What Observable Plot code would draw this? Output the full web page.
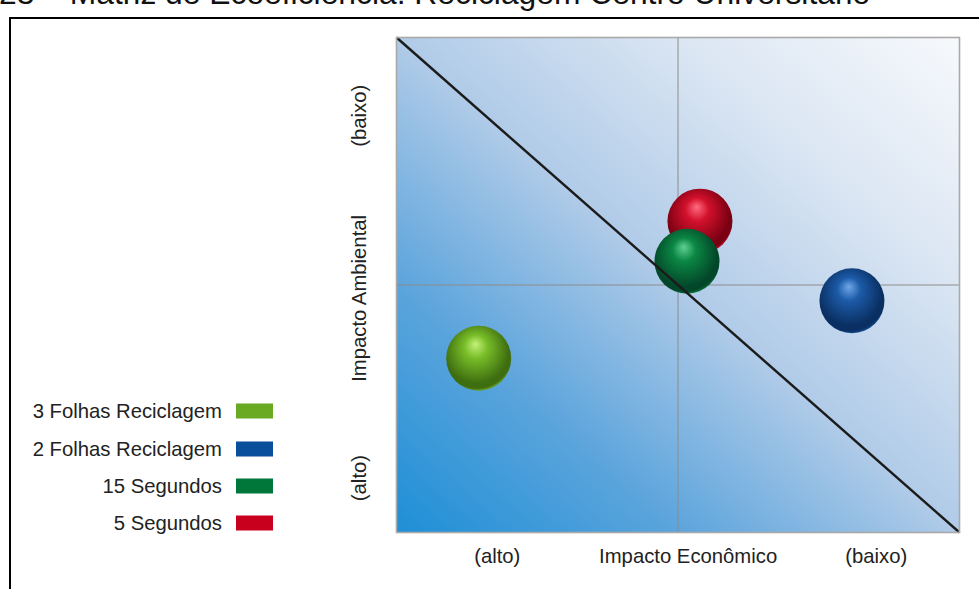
<!DOCTYPE html>
<html>
<head>
<meta charset="utf-8">
<script src="https://cdn.jsdelivr.net/npm/d3@7"></script>
<script src="https://cdn.jsdelivr.net/npm/@observablehq/plot@0.6"></script>
<style>
  html, body { margin: 0; padding: 0; background: #fff; }
  #wrap { position: relative; width: 979px; height: 589px; overflow: hidden; font-family: "Liberation Sans", Arial, sans-serif; }
  #title { position: absolute; left: -1px; top: -22px; font-size: 31.8px; line-height: 31px; white-space: nowrap; color: #111; }
  #box { position: absolute; left: 9px; top: 17px; width: 1200px; height: 1200px; border-left: 2.5px solid #000; border-top: 2.5px solid #000; }
  #chart { position: absolute; left: 0; top: 0; }
  .leg { position: absolute; left: 0; width: 273px; height: 20px; font-size: 20.3px; color: #222; }
  .leg span.t { position: absolute; right: 51px; top: 50%; transform: translateY(-50%); white-space: nowrap; }
  .leg span.s { position: absolute; right: 0; top: 50%; width: 37px; height: 15px; transform: translateY(-50%); }
</style>
</head>
<body>
<div id="wrap">
  <div id="title">23 – Matriz de Ecoeficiência: Reciclagem Centro Universitário</div>
  <div id="box"></div>
  <div id="chart"></div>
</div>
<script>
// Series of the eco-efficiency matrix (legend order)
const series = ["3 Folhas Reciclagem", "2 Folhas Reciclagem", "15 Segundos", "5 Segundos"];
// Economic impact (0 = alto, 10 = baixo)
const economico = [1.46, 8.09, 5.16, 5.39];
// Environmental impact (0 = alto, 10 = baixo)
const ambiental = [3.52, 4.68, 5.48, 6.29];
// Flat legend colours and sphere shading (highlight, base, shadow)
const swatch = ["#69aa22", "#0a4f9c", "#00773a", "#c8001e"];
const highlight = ["#c4f27a", "#6fa8e8", "#5fd093", "#ff6b80"];
const base = ["#78bd28", "#1c5ba8", "#0b8743", "#d3112c"];
const shadow = ["#3f6e10", "#0a2f62", "#03472a", "#7a0012"];

// Axis captions
const xLabels = ["(alto)", "Impacto Econômico", "(baixo)"];
const xLabelPos = [1.79, 5.18, 8.52];
const yLabels = ["(alto)", "Impacto Ambiental", "(baixo)"];
const yLabelPos = [1.10, 4.73, 8.42];

const domain = [0, 10];
const mid = 5;

const points = series.map((name, i) => ({name, x: economico[i], y: ambiental[i]}));
const drawOrder = points.slice().reverse();
const yCaptions = yLabels.map((label, i) => ({label, y: yLabelPos[i]}));
const diagonal = [{x1: domain[0], y1: domain[1], x2: domain[1], y2: domain[0]}];

// Gradient definitions for the background and the spheres
function defs() {
  const d = d3.create("svg:defs");
  const bg = d.append("linearGradient").attr("id", "bg")
    .attr("x1", 0).attr("y1", 1).attr("x2", 1).attr("y2", 0);
  [[0, "#1e8fd6"], [0.25, "#5ba4dc"], [0.5, "#b0cbe8"], [0.75, "#dbe6f3"], [1, "#f7f9fc"]]
    .forEach(([o, c]) => bg.append("stop").attr("offset", o).attr("stop-color", c));
  series.forEach((_, i) => {
    const g = d.append("radialGradient").attr("id", `ball${i}`)
      .attr("cx", 0.47).attr("cy", 0.42).attr("r", 0.6)
      .attr("fx", 0.45).attr("fy", 0.28);
    [[0, highlight[i]], [0.3, base[i]], [0.82, shadow[i]], [0.92, shadow[i]], [1, base[i]]]
      .forEach(([o, c]) => g.append("stop").attr("offset", o).attr("stop-color", c));
  });
  return d.node();
}

const chart = Plot.plot({
  width: 979,
  height: 589,
  marginLeft: 396,
  marginRight: 20,
  marginTop: 37,
  marginBottom: 57,
  x: {domain},
  y: {domain, axis: null},
  color: {domain: series, range: series.map((_, i) => `url(#ball${i})`)},
  style: {fontFamily: "'Liberation Sans', Arial, sans-serif", fontSize: "20.3px", color: "#222", background: "transparent"},
  marks: [
    defs,
    Plot.frame({fill: "url(#bg)"}),
    Plot.ruleX([mid], {stroke: "#8c8c8c", strokeWidth: 1}),
    Plot.ruleY([mid], {stroke: "#8c8c8c", strokeWidth: 1}),
    Plot.dot(drawOrder, {x: "x", y: "y", r: 32.5, fill: "name"}),
    Plot.link(diagonal, {x1: "x1", y1: "y1", x2: "x2", y2: "y2", stroke: "#1b1b1b", strokeWidth: 2.4}),
    Plot.frame({stroke: "#a9a9a9", strokeWidth: 1.6}),
    Plot.axisX({ticks: xLabelPos, tickFormat: (d, i) => xLabels[i], tickSize: 0, tickPadding: 16, fontSize: 20.3}),
    Plot.text(yCaptions, {y: "y", text: "label", frameAnchor: "left", dx: -37, rotate: -90, textAnchor: "middle", fill: "#222", fontSize: 20.3})
  ]
});
document.getElementById("chart").append(chart);

// Legend on the left side of the frame
const wrap = document.getElementById("wrap");
const legendY = [411, 449, 486, 523];
series.forEach((name, i) => {
  const row = document.createElement("div");
  row.className = "leg";
  row.style.top = (legendY[i] - 10) + "px";
  row.innerHTML = `<span class="t">${name}</span><span class="s" style="background:${swatch[i]}"></span>`;
  wrap.append(row);
});
</script>
</body>
</html>
